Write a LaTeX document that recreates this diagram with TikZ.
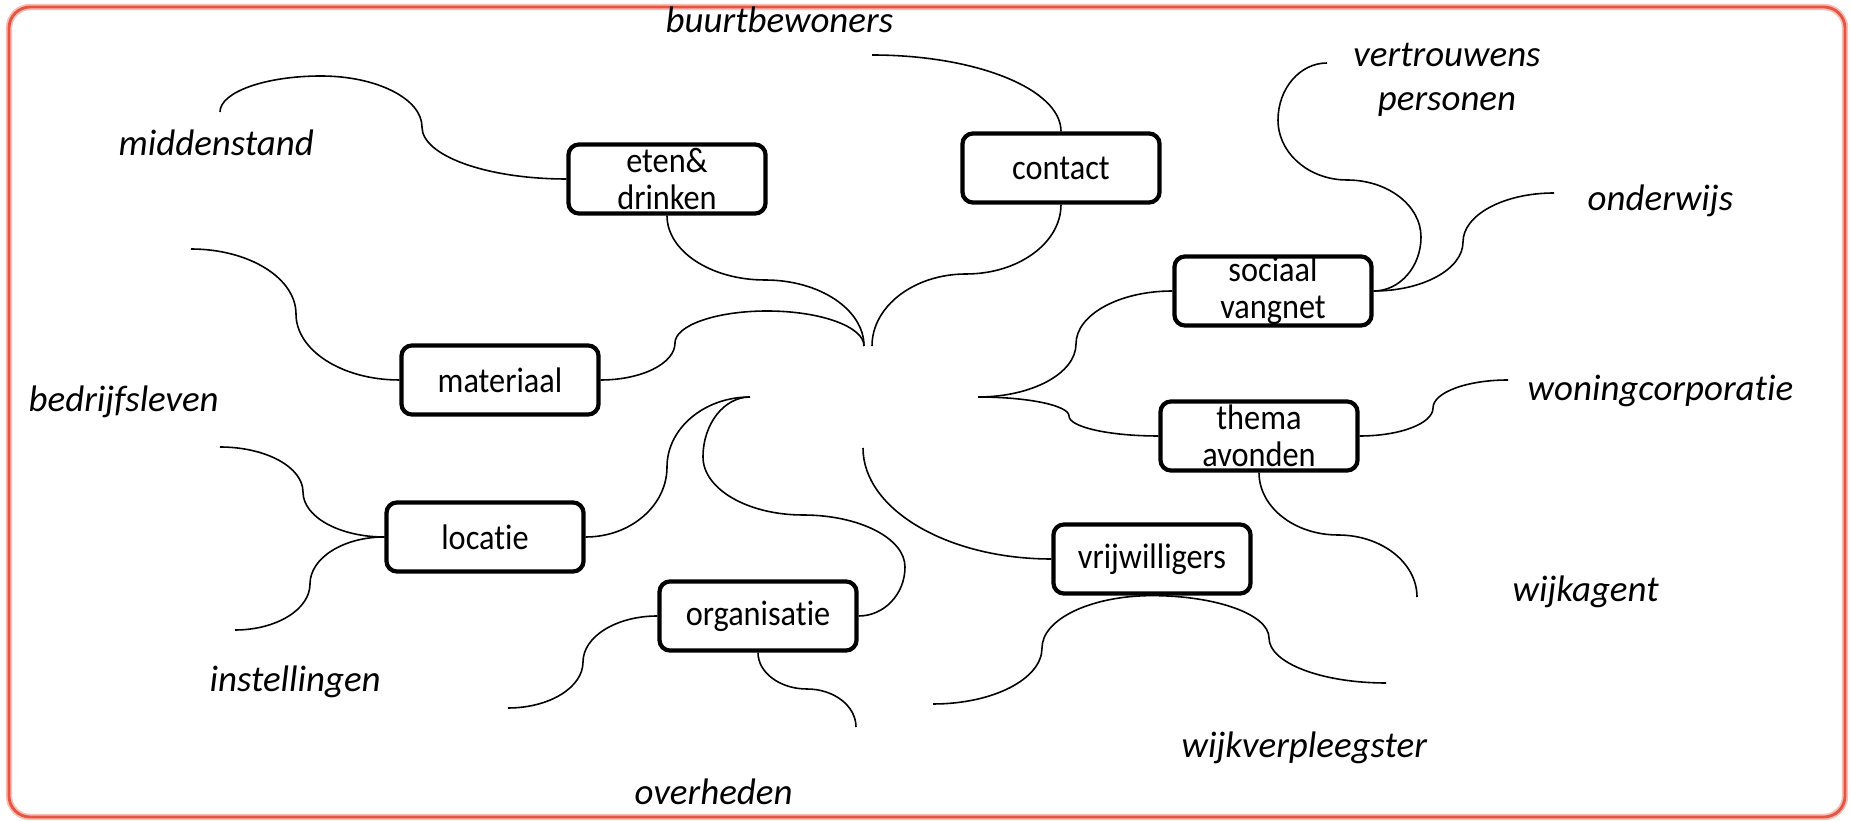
\documentclass[tikz,border=0pt]{standalone}
\usepackage{fontspec}
\setmainfont[Ligatures=NoCommon]{Carlito}
\newfontfamily\boxfont[Ligatures=NoCommon, FakeStretch=0.91]{Carlito}
\usetikzlibrary{calc}
\definecolor{framered}{RGB}{233,84,66}
\definecolor{framepink}{RGB}{246,190,180}
\begin{document}
\begin{tikzpicture}[
    x=0.01cm, y=0.01cm,
    box/.style={draw, line width=1.2pt, rounded corners=3pt, minimum width=1.97cm, minimum height=0.69cm,
      inner sep=0pt, align=center, font=\boxfont\fontsize{10.1}{10.5}\selectfont},
    lbl/.style={anchor=base west, inner sep=0pt, font=\fontsize{10.5}{12.6}\selectfont\itshape},
    link/.style={line width=0.45pt},
    hv/.style={to path={.. controls ($(\tikztostart)!0.552!(\tikztostart -| \tikztotarget)$)
      and ($(\tikztotarget)!0.552!(\tikztostart -| \tikztotarget)$) .. (\tikztotarget)}},
    vh/.style={to path={.. controls ($(\tikztostart)!0.552!(\tikztostart |- \tikztotarget)$)
      and ($(\tikztotarget)!0.552!(\tikztostart |- \tikztotarget)$) .. (\tikztotarget)}}
    ]
    \path[fill=white] (0,0) rectangle (1851,-820);
    \draw[framepink, line width=1.8pt, rounded corners=6pt] (9,-7) rectangle (1845,-817);
    \draw[framered, line width=0.8pt, rounded corners=6pt] (9,-7) rectangle (1845,-817);

	\node [box] (eten) at (667,-179) {eten\&\\drinken};
	\node [box] (contact) at (1061,-168) {contact};
	\node [box] (sociaal) at (1273,-291) {sociaal\\vangnet};
	\node [box] (materiaal) at (500,-380) {materiaal};
	\node [box] (thema) at (1259,-436) {thema\\avonden};
	\node [box] (locatie) at (485,-537) {locatie};
	\node [box] (vrij) at (1152,-559) {vrijwilligers};
	\node [box] (org) at (758,-616) {organisatie};

	\node [lbl] (buurt) at (665,-33) {buurtbewoners};
	\node [lbl] (midden) at (118,-156) {middenstand};
	\node [lbl, anchor=center, align=center] (vertr) at (1447,-80) {vertrouwens\\personen};
	\node [lbl] (onderw) at (1587,-211) {onderwijs};
	\node [lbl] (bedrijf) at (28,-412) {bedrijfsleven};
	\node [lbl] (woning) at (1527,-401) {woningcorporatie};
	\node [lbl] (wijkag) at (1512,-602) {wijkagent};
	\node [lbl] (instel) at (209,-692) {instellingen};
	\node [lbl] (verpl) at (1181,-758) {wijkverpleegster};
	\node [lbl] (overh) at (634,-805) {overheden};

	\coordinate (hubA) at (864,-346);
	\coordinate (hubB) at (872,-346);
	\coordinate (hubR) at (978,-397);
	\coordinate (hubD) at (750,-397);
	\coordinate (vtop) at (863,-448);
	\coordinate (eBuurt) at (872,-55);
	\coordinate (eMidden) at (220,-112);
	\coordinate (eBedrijf) at (191,-249);
	\coordinate (eInstelA) at (220,-447);
	\coordinate (eInstelB) at (235,-630);
	\coordinate (eOverhA) at (508,-708);
	\coordinate (eOverhB) at (856,-727);
	\coordinate (eVertr) at (1327,-63);
	\coordinate (eOnderw) at (1554,-193);
	\coordinate (eWoning) at (1508,-380);
	\coordinate (eWijkag) at (1417,-597);
	\coordinate (eVerplA) at (933,-704);
	\coordinate (eVerplB) at (1386,-683);

	\draw [link] (contact.north) to[vh] (eBuurt);
	\draw [link] (contact.south) to[vh] (966,-274) to[hv] (hubB);
	\draw [link] (eten.south) to[vh] (765,-280) to[hv] (hubA);
	\draw [link] (eten.west) to[hv] (422,-127) to[vh] (321,-76) to[hv] (eMidden);
	\draw [link] (materiaal.east) to[hv] (675,-343) to[vh] (767,-311) to[hv] (hubA);
	\draw [link] (materiaal.west) to[hv] (296,-314) to[vh] (eBedrijf);
	\draw [link] (locatie.east) to[hv] (667,-467) to[vh] (hubD);
	\draw [link] (locatie.west) to[hv] (303,-492) to[vh] (eInstelA);
	\draw [link] (locatie.west) to[hv] (310,-584) to[vh] (eInstelB);
	\draw [link] (org.east) to[hv] (905,-567) to[vh] (803,-515) to[hv] (703,-457) to[vh] (hubD);
	\draw [link] (org.west) to[hv] (583,-662) to[vh] (eOverhA);
	\draw [link] (org.south) to[vh] (807,-689) to[hv] (eOverhB);
	\draw [link] (sociaal.west) to[hv] (1076,-344) to[vh] (hubR);
	\draw [link] (sociaal.east) to[hv] (1421,-237) to[vh] (1347,-180) to[hv] (1278,-120) to[vh] (eVertr);
	\draw [link] (sociaal.east) to[hv] (1463,-242) to[vh] (eOnderw);
	\draw [link] (thema.west) to[hv] (1069,-416) to[vh] (hubR);
	\draw [link] (thema.east) to[hv] (1433,-408) to[vh] (eWoning);
	\draw [link] (thema.south) to[vh] (1338,-535) to[hv] (eWijkag);
	\draw [link] (vrij.west) to[hv] (vtop);
	\draw [link] (vrij.south) to[hv] (1042,-648) to[vh] (eVerplA);
	\draw [link] (vrij.south) to[hv] (1269,-638) to[vh] (eVerplB);
\end{tikzpicture}
\end{document}
